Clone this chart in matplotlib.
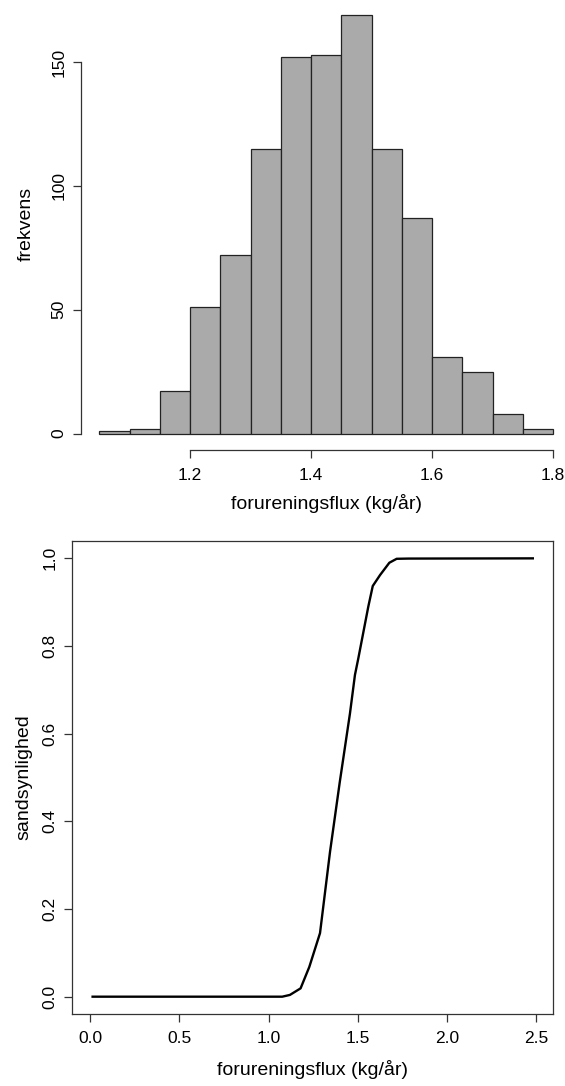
import matplotlib
matplotlib.use("Agg")
import matplotlib.pyplot as plt

plt.rcParams["font.family"] = ["Liberation Sans", "DejaVu Sans"]

# Histogram: bin edges and counts
bin_edges = [1.05, 1.10, 1.15, 1.20, 1.25, 1.30, 1.35, 1.40,
             1.45, 1.50, 1.55, 1.60, 1.65, 1.70, 1.75, 1.80]
counts = [1, 2, 17, 51, 72, 115, 152, 153, 169, 115, 87, 31, 25, 8, 2]
hist_xticks = [1.2, 1.4, 1.6, 1.8]
hist_yticks = [0, 50, 100, 150]

# Cumulative probability curve
flux = [0.013, 1.077, 1.12, 1.18, 1.229, 1.289, 1.345, 1.40, 1.457,
        1.485, 1.504, 1.56, 1.585, 1.626, 1.678, 1.719, 1.785, 2.483]
prob = [0.0, 0.0, 0.004, 0.019, 0.068, 0.145, 0.33, 0.49, 0.646,
        0.734, 0.772, 0.89, 0.937, 0.962, 0.99, 0.999, 0.9995, 1.0]
cdf_xticks = [0.0, 0.5, 1.0, 1.5, 2.0, 2.5]
cdf_yticks = [0.0, 0.2, 0.4, 0.6, 0.8, 1.0]

xlabel = "forureningsflux (kg/år)"
tick_fs = 12.5
label_fs = 14

fig = plt.figure(figsize=(5.65, 10.86), dpi=100)

# ---- top: histogram (R style axes, no box)
ax1 = fig.add_axes([0.1439, 0.5853, 0.8674, 0.4164])
widths = [b - a for a, b in zip(bin_edges[:-1], bin_edges[1:])]
ax1.bar(bin_edges[:-1], counts, width=widths, align="edge",
        color="#aaaaaa", edgecolor="#222222", linewidth=0.9)
ax1.set_xlim(1.02, 1.83)
ax1.set_ylim(-6.76, 175.76)
for s in ["top", "right"]:
    ax1.spines[s].set_visible(False)
ax1.spines["bottom"].set_bounds(hist_xticks[0], hist_xticks[-1])
ax1.spines["left"].set_bounds(hist_yticks[0], hist_yticks[-1])
ax1.set_xticks(hist_xticks)
ax1.set_xticklabels([f"{v:.1f}" for v in hist_xticks])
ax1.set_yticks(hist_yticks)
ax1.set_yticklabels([str(v) for v in hist_yticks], rotation=90, va="center")
ax1.set_xlabel(xlabel, fontsize=label_fs)
ax1.set_ylabel("frekvens", fontsize=label_fs)
ax1.xaxis.set_label_coords(0.5, -0.0964)
ax1.yaxis.set_label_coords(-0.095, 0.5)

# ---- bottom: cumulative curve
ax2 = fig.add_axes([0.1274, 0.0663, 0.8519, 0.4355])
ax2.plot(flux, prob, color="black", linewidth=1.7)
ax2.set_xlim(-0.1027, 2.598)
ax2.set_ylim(-0.0395, 1.0395)
ax2.set_xticks(cdf_xticks)
ax2.set_xticklabels([f"{v:.1f}" for v in cdf_xticks])
ax2.set_yticks(cdf_yticks)
ax2.set_yticklabels([f"{v:.1f}" for v in cdf_yticks], rotation=90, va="center")
ax2.set_xlabel(xlabel, fontsize=label_fs)
ax2.set_ylabel("sandsynlighed", fontsize=label_fs)
ax2.xaxis.set_label_coords(0.5, -0.0973)
ax2.yaxis.set_label_coords(-0.082, 0.5)

for ax in (ax1, ax2):
    for s in ax.spines.values():
        s.set_linewidth(0.9)
        s.set_color("#333333")
    ax.tick_params(axis="both", direction="out", length=5.5, width=0.9,
                   color="#333333", labelsize=tick_fs)
    ax.tick_params(axis="x", pad=7)
    ax.tick_params(axis="y", pad=5)

fig.savefig("out.png", dpi=100)
